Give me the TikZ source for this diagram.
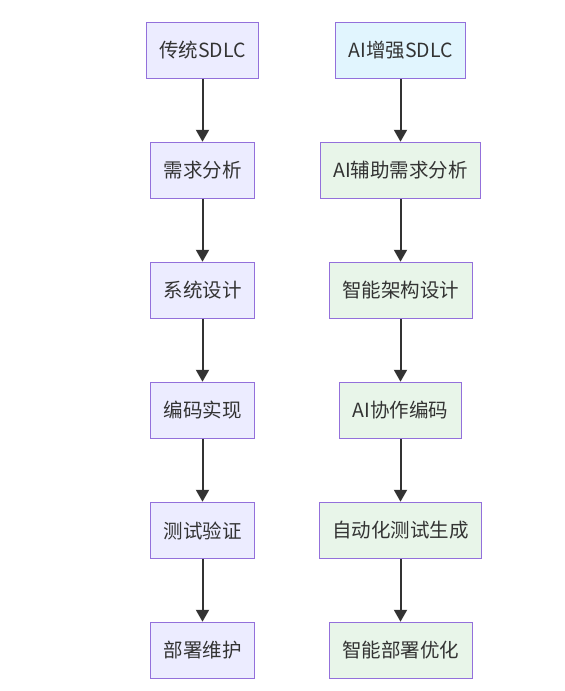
\documentclass[tikz,border=0pt]{standalone}
\usepackage{fontspec}
\setmainfont{Noto Sans CJK SC}
\usepackage{xcolor}
\usepackage{tikz}
\usetikzlibrary{positioning,arrows.meta}
\definecolor{tradfill}{HTML}{ECECFF}
\definecolor{boxline}{HTML}{9370DB}
\definecolor{aifill}{HTML}{E8F5E9}
\definecolor{aitopfill}{HTML}{E1F5FE}
\definecolor{arrowgray}{HTML}{333333}
\tikzset{
  stage/.style={draw=boxline, line width=1pt, minimum height=56.5pt, inner xsep=13pt,
    text=arrowgray, font=\fontsize{19.5}{21}\selectfont},
  trad/.style={stage, fill=tradfill},
  aitop/.style={stage, fill=aitopfill},
  aistage/.style={stage, fill=aifill},
  flow/.style={draw=arrowgray, line width=2pt, -{Triangle[length=12pt,width=13pt]}}
}

\begin{document}
\begin{tikzpicture}[x=1pt, y=-1pt, node distance=62.5pt]
\useasboundingbox (0,0) rectangle (565,691);

% traditional column
\node[trad] (tradroot) at (202.5,50.5) {传统SDLC};
\node[trad, below=of tradroot] (tradreq) {需求分析};
\node[trad, below=of tradreq] (traddesign) {系统设计};
\node[trad, below=of traddesign] (tradcode) {编码实现};
\node[trad, below=of tradcode] (tradtest) {测试验证};
\node[trad, below=of tradtest] (tradops) {部署维护};

% AI column
\node[aitop] (airoot) at (400.5,50.5) {AI增强SDLC};
\node[aistage, below=of airoot] (aireq) {AI辅助需求分析};
\node[aistage, below=of aireq] (aidesign) {智能架构设计};
\node[aistage, below=of aidesign] (aicode) {AI协作编码};
\node[aistage, below=of aicode] (aitest) {自动化测试生成};
\node[aistage, below=of aitest] (aiops) {智能部署优化};

\foreach \a/\b in {tradroot/tradreq, tradreq/traddesign, traddesign/tradcode, tradcode/tradtest, tradtest/tradops,
                   airoot/aireq, aireq/aidesign, aidesign/aicode, aicode/aitest, aitest/aiops}
  \draw[flow] (\a) -- (\b);

\end{tikzpicture}
\end{document}
